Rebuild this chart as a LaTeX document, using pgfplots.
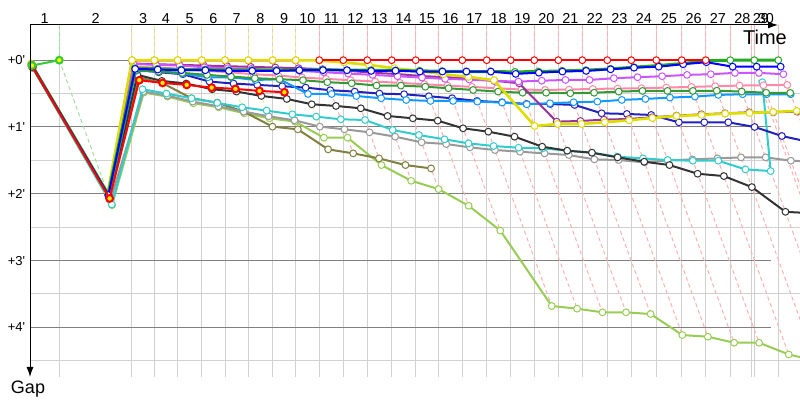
\documentclass[border=0pt]{standalone}
\usepackage{fontspec}
\setmainfont{Liberation Sans}
\usepackage{pgfplots}
\usepackage{pgfplotstable}
\pgfplotsset{compat=1.18}
\usetikzlibrary{arrows.meta}

\definecolor{cLime}{HTML}{33CC33}
\definecolor{cYel}{HTML}{DDDD00}
\definecolor{cRed}{HTML}{FF0000}
\definecolor{cGrn}{HTML}{22AA22}
\definecolor{cBlu}{HTML}{0000FF}
\definecolor{cVio}{HTML}{CC55FF}
\definecolor{cPur}{HTML}{993399}
\definecolor{cPink}{HTML}{FF88AA}
\definecolor{cFgr}{HTML}{339933}
\definecolor{cLbl}{HTML}{1199FF}
\definecolor{cInd}{HTML}{2222BB}
\definecolor{cBlk}{HTML}{333333}
\definecolor{cCya}{HTML}{33CCCC}
\definecolor{cGry}{HTML}{999999}
\definecolor{cOli}{HTML}{808040}
\definecolor{cLgr}{HTML}{99CC55}
\definecolor{lapG}{HTML}{A0E0A0}
\definecolor{lapY}{HTML}{EEEE99}
\definecolor{lapR}{HTML}{FFB0B0}
\definecolor{gridL}{HTML}{D0D0D0}
\definecolor{gridM}{HTML}{808080}

% gaps (minutes) per lap; t = leader time of lap end (pixel units)
\pgfplotstableread{
lap t     lime yel   red   redy grn   blu   vio   pur   pink  fgr   lbl   ind   blk   cya   gry   oli   lgr
0   30    0.08 0.05  0.06  0.09 0.07  0.07  0.07  0.08  0.08  0.09  0.09  0.10  0.10  0.11  0.11  0.10  0.12
1   59.3  0    1.99  2.00  2.07 2.01  2.02  2.01  2.02  2.03  2.04  2.04  2.03  2.05  2.16  2.10  2.06  2.17
2   132   nan  0     0.003 0.30 0.12  0.13  0.057 0.05  0.10  0.15  0.16  0.14  0.22  0.435 0.47  0.255 0.485
3   154.3 nan  0     0.003 0.34 0.13  0.14  0.07  0.06  0.11  0.17  0.17  0.18  0.31  0.50  0.53  0.345 0.545
4   177.7 nan  0     0.003 0.37 0.14  0.15  0.08  0.07  0.13  0.19  0.20  0.21  0.35  0.57  0.62  0.57  0.645
5   201.7 nan  0     0.003 0.41 0.14  0.15  0.106 0.08  0.16  0.22  0.256 0.32  0.435 0.64  0.69  0.635 0.705
6   225   nan  0     0.003 0.43 0.15  0.16  0.12  0.09  0.18  0.245 0.256 0.35  0.47  0.705 0.77  0.77  0.795
7   248.3 nan  0     0.003 0.46 0.15  0.16  0.13  0.10  0.21  0.27  0.296 0.37  0.535 0.755 0.84  0.995 0.87
8   272.7 nan  0     0.003 0.48 0.15  0.16  0.147 0.11  0.23  0.285 0.286 0.39  0.58  0.81  0.90  1.035 0.92
9   295.7 nan  0     0.003 nan  0.15  0.15  0.16  0.12  0.26  0.30  0.506 0.41  0.66  0.845 0.995 1.335 1.16
10  319.3 nan  0.005 0     nan  0.14  0.15  0.18  0.135 0.28  0.33  0.506 0.45  0.685 0.885 1.035 1.395 1.16
11  343.3 nan  0.035 0     nan  0.15  0.15  0.20  0.157 0.30  0.346 0.536 0.47  0.72  0.895 1.08  1.47  1.57
12  367.3 nan  0.07  0     nan  0.15  0.16  0.22  0.187 0.32  0.38  0.57  0.50  0.835 1.045 1.145 1.57  1.805
13  391.7 nan  0.12  0     nan  0.155 0.157 0.24  0.207 0.34  0.38  0.596 0.51  0.87  1.12  1.23  1.62  1.93
14  415.7 nan  0.16  0     nan  0.16  0.17  0.26  0.237 0.36  0.397 0.61  0.54  0.905 1.185 1.255 nan   2.18
15  438.3 nan  0.21  0     nan  0.165 0.17  0.28  0.255 0.38  0.42  0.61  0.57  1.02  1.245 1.305 nan   2.55
16  462.3 nan  0.25  0     nan  0.17  0.17  0.29  0.27  0.40  0.446 0.62  0.61  1.07  1.285 1.345 nan   3.68
17  486.7 nan  0.30  0     nan  0.17  0.17  0.31  0.307 0.42  0.47  0.635 0.63  1.145 1.31  1.37  nan   3.72
18  510.7 nan  0.985 0     nan  0.175 0.205 0.32  0.346 0.44  0.487 0.66  0.655 1.295 1.32  1.395 nan   3.775
19  534.3 nan  0.955 0     nan  0.17  0.187 0.307 0.92  0.445 0.487 0.645 0.656 1.355 1.355 1.42  nan   3.775
20  558.3 nan  0.955 0     nan  0.16  0.17  0.296 0.91  0.44  0.495 0.63  0.67  1.385 1.385 1.485 nan   3.80
21  582.3 nan  0.93  0     nan  0.15  0.16  0.296 0.89  0.43  0.487 0.62  0.795 1.455 1.445 1.495 nan   4.115
22  607.3 nan  0.90  0     nan  0.13  0.136 0.27  0.88  0.425 0.47  0.595 0.805 1.52  1.47  1.53  nan   4.14
23  631.3 nan  0.865 0     nan  0.105 0.112 0.255 0.855 0.42  0.46  0.58  0.82  1.57  1.495 1.50  nan   4.23
24  656.3 nan  0.835 0     nan  0.08  0.097 0.24  0.83  0.41  0.46  0.56  0.93  1.70  1.505 1.485 nan   4.23
25  681.7 nan  0.82  0     nan  0.05  0.06  0.22  0.81  0.40  0.46  0.545 0.93  1.735 1.505 1.47  nan   4.405
26  705.7 nan  0.80  0     nan  0.01  0.03  0.21  0.795 0.39  0.457 0.52  0.93  1.90  1.635 1.455 nan   4.5
27  730.3 nan  0.79  nan   nan  0     0.097 0.19  0.78  0.38  0.47  0.51  1.0   2.27  1.66  1.455 nan   nan
28  754.3 nan  0.775 nan   nan  0     0.097 0.19  0.78  0.375 0.487 0.51  1.135 2.29  0.33  1.505 nan   nan
29  778.3 nan  0.76  nan   nan  0     0.097 0.21  0.77  0.37  0.49  0.51  1.22  nan   nan   1.52  nan   nan
}\gaps

\pgfplotsset{
  ser/.style={color=#1, line width=1pt, mark=*, mark size=1.7pt,
    mark options={fill=white, line width=0.5pt, solid}},
  lapline/.style={color=#1, line width=0.5pt, dash pattern=on 2pt off 1.5pt, mark=none},
}
\newcommand{\kk}{24.3}

\begin{document}
\begin{tikzpicture}
\useasboundingbox (0,0) rectangle (400pt,200pt);
\begin{axis}[
  at={(15pt,11.5pt)}, anchor=south west,
  scale only axis, width=385pt, height=176pt,
  xmin=30, xmax=800, ymin=-0.527, ymax=4.743, y dir=reverse,
  axis line style={draw=none},
  clip mode=individual,
  xtick={44.65,95.65,143.15,166,189.7,213.35,236.65,260.5,284.2,307.5,331.3,355.3,379.5,403.7,427,450.3,474.5,498.7,522.5,546.3,570.3,594.8,619.3,643.8,669,693.7,718,742.3,761,766},
  xticklabels={1,2,3,4,5,6,7,8,9,10,11,12,13,14,15,16,17,18,19,20,21,22,23,24,25,26,27,28,29,30},
  xticklabel pos=upper,
  xticklabel style={anchor=south, inner sep=0.6pt, font=\fontsize{7.2}{8}\selectfont},
  minor xtick={59.3,132,154.3,177.7,201.7,225,248.3,272.7,295.7,319.3,343.3,367.3,391.7,415.7,438.3,462.3,486.7,510.7,534.3,558.3,582.3,607.3,631.3,656.3,681.7,705.7,730.3,751.3,754.3,778.3},
  xminorgrids=true,
  ytick={0,1,2,3,4},
  yticklabels={+0\textquotesingle,+1\textquotesingle,+2\textquotesingle,+3\textquotesingle,+4\textquotesingle},
  yticklabel style={anchor=east, inner sep=2.2pt, font=\fontsize{6.5}{7}\selectfont},
  minor ytick={0.5,1.5,2.5,3.5,4.5},
  yminorgrids=true,
  major tick length=0pt, minor tick length=0pt,
  minor grid style={color=gridL, line width=0.5pt},
]
% major horizontal lines
\draw[gridM, line width=0.5pt] (axis cs:30,0) -- (axis cs:771,0);
\draw[gridM, line width=0.5pt] (axis cs:30,1) -- (axis cs:771,1);
\draw[gridM, line width=0.5pt] (axis cs:30,2) -- (axis cs:771,2);
\draw[gridM, line width=0.5pt] (axis cs:30,3) -- (axis cs:771,3);
\draw[gridM, line width=0.5pt] (axis cs:30,4) -- (axis cs:771,4);

% lap lines
\addplot[lapline=lapG] coordinates {(59.3,-0.53) (59.3,0) (112.0,2.17)};
\addplot[lapline=lapY] coordinates {(132,-0.53) (132,0) (143.8,0.485)};
\addplot[lapline=lapY] coordinates {(154.3,-0.53) (154.3,0) (167.5,0.545)};
\addplot[lapline=lapY] coordinates {(177.7,-0.53) (177.7,0) (193.4,0.645)};
\addplot[lapline=lapY] coordinates {(201.7,-0.53) (201.7,0) (218.8,0.705)};
\addplot[lapline=lapY] coordinates {(225,-0.53) (225,0) (244.3,0.795)};
\addplot[lapline=lapY] coordinates {(248.3,-0.53) (248.3,0) (272.5,0.995)};
\addplot[lapline=lapY] coordinates {(272.7,-0.53) (272.7,0) (297.9,1.035)};
\addplot[lapline=lapY] coordinates {(295.7,-0.53) (295.7,0) (328.1,1.335)};
\addplot[lapline=lapR] coordinates {(319.3,-0.53) (319.3,0) (353.2,1.395)};
\addplot[lapline=lapR] coordinates {(343.3,-0.53) (343.3,0) (381.5,1.57)};
\addplot[lapline=lapR] coordinates {(367.3,-0.53) (367.3,0) (411.2,1.805)};
\addplot[lapline=lapR] coordinates {(391.7,-0.53) (391.7,0) (438.6,1.93)};
\addplot[lapline=lapR] coordinates {(415.7,-0.53) (415.7,0) (468.7,2.18)};
\addplot[lapline=lapR] coordinates {(438.3,-0.53) (438.3,0) (500.3,2.55)};
\addplot[lapline=lapR] coordinates {(462.3,-0.53) (462.3,0) (551.7,3.68)};
\addplot[lapline=lapR] coordinates {(486.7,-0.53) (486.7,0) (577.1,3.72)};
\addplot[lapline=lapR] coordinates {(510.7,-0.53) (510.7,0) (602.4,3.775)};
\addplot[lapline=lapR] coordinates {(534.3,-0.53) (534.3,0) (626.0,3.775)};
\addplot[lapline=lapR] coordinates {(558.3,-0.53) (558.3,0) (650.6,3.8)};
\addplot[lapline=lapR] coordinates {(582.3,-0.53) (582.3,0) (682.3,4.115)};
\addplot[lapline=lapR] coordinates {(607.3,-0.53) (607.3,0) (707.9,4.14)};
\addplot[lapline=lapR] coordinates {(631.3,-0.53) (631.3,0) (734.1,4.23)};
\addplot[lapline=lapR] coordinates {(656.3,-0.53) (656.3,0) (759.1,4.23)};
\addplot[lapline=lapR] coordinates {(681.7,-0.53) (681.7,0) (788.7,4.405)};
\addplot[lapline=lapR] coordinates {(705.7,-0.53) (705.7,0) (815.1,4.5)};
\addplot[lapline=lapR] coordinates {(730.3,-0.53) (730.3,0) (842,4.6)};
\addplot[lapline=lapR] coordinates {(751.3,-0.53) (751.3,0) (867,4.75)};
\addplot[lapline=lapR] coordinates {(754.3,-0.53) (754.3,0) (870,4.75)};
\addplot[lapline=lapR] coordinates {(778.3,-0.53) (778.3,0) (894,4.75)};

% drivers
\addplot[ser=cLgr] table[x expr=\thisrow{t}+\kk*\thisrow{lgr}, y=lgr] {\gaps};
\addplot[ser=cOli] table[x expr=\thisrow{t}+\kk*\thisrow{oli}, y=oli] {\gaps};
\addplot[ser=cGry] table[x expr=\thisrow{t}+\kk*\thisrow{gry}, y=gry] {\gaps};
\addplot[ser=cCya] table[x expr=\thisrow{t}+\kk*\thisrow{cya}, y=cya] {\gaps};
\addplot[ser=cBlk] table[x expr=\thisrow{t}+\kk*\thisrow{blk}, y=blk] {\gaps};
\addplot[ser=cInd] table[x expr=\thisrow{t}+\kk*\thisrow{ind}, y=ind] {\gaps};
\addplot[ser=cLbl] table[x expr=\thisrow{t}+\kk*\thisrow{lbl}, y=lbl] {\gaps};
\addplot[ser=cPink] table[x expr=\thisrow{t}+\kk*\thisrow{pink}, y=pink] {\gaps};
\addplot[ser=cFgr] table[x expr=\thisrow{t}+\kk*\thisrow{fgr}, y=fgr] {\gaps};
\addplot[ser=cPur] table[x expr=\thisrow{t}+\kk*\thisrow{pur}, y=pur] {\gaps};
\addplot[ser=cVio] table[x expr=\thisrow{t}+\kk*\thisrow{vio}, y=vio] {\gaps};
\addplot[ser=cRed, skip coords between index={10}{40}] table[x expr=\thisrow{t}+\kk*\thisrow{red}, y=red] {\gaps};
\addplot[ser=cYel, line width=1.3pt] table[x expr=\thisrow{t}+\kk*\thisrow{yel}, y=yel] {\gaps};
\addplot[ser=cGrn, line width=1.5pt] table[x expr=\thisrow{t}+\kk*\thisrow{grn}, y=grn] {\gaps};
\addplot[ser=cBlu] table[x expr=\thisrow{t}+\kk*\thisrow{blu}, y=blu] {\gaps};
\addplot[ser=cRed, skip coords between index={0}{10}] table[x expr=\thisrow{t}+\kk*\thisrow{red}, y=red] {\gaps};
\addplot[ser=cRed, mark options={fill=yellow}] table[x expr=\thisrow{t}+\kk*\thisrow{redy}, y=redy] {\gaps};
\addplot[ser=cLime, mark options={fill=yellow}] table[x expr=\thisrow{t}+\kk*\thisrow{lime}, y=lime] {\gaps};
\end{axis}
% axes with arrows
\draw[black, line width=0.5pt, -{Latex[length=5pt,width=3.5pt]}] (15pt,187.5pt) -- (389pt,187.5pt);
\draw[black, line width=0.5pt, -{Latex[length=5pt,width=3.5pt]}] (15pt,187.5pt) -- (15pt,11.5pt);
\node[anchor=base, inner sep=0pt, font=\fontsize{10}{12}\selectfont] at (382.5pt,177.8pt) {Time};
\node[anchor=base, inner sep=0pt, font=\fontsize{9}{11}\selectfont] at (14pt,3.2pt) {Gap};
\end{tikzpicture}
\end{document}
